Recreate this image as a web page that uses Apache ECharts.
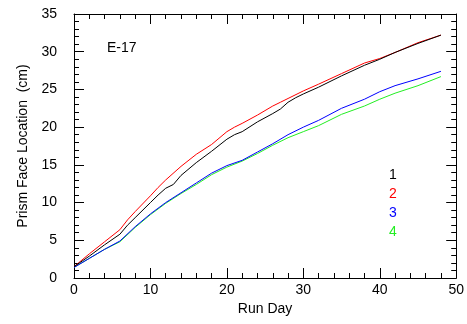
<!DOCTYPE html>
<html>
<head>
<meta charset="utf-8">
<script src="https://cdn.jsdelivr.net/npm/echarts@6/dist/echarts.min.js"></script>
<style>
html,body{margin:0;padding:0;background:#fff;}
#c{width:467px;height:324px;}
</style>
</head>
<body>
<div id="c"></div>
<script>
const seriesNames = ['1', '2', '3', '4'];
const seriesColors = ['#000000', '#ff0000', '#0000ff', '#22ee22'];

const days1 = [0,2,4,6,7,8,10,11,12,13,14,16,18,20,21,22,24,26,27,28,29,30,32,35,38,40,42,45,48];
const vals1 = [1.5,2.9,4.4,5.8,7.0,8.0,10.0,11.0,11.9,12.4,13.6,15.3,16.8,18.4,19.0,19.4,20.7,21.8,22.4,23.3,23.9,24.4,25.3,26.8,28.2,29.0,29.9,31.1,32.2];

const days2 = [0,2,4,6,7,8,10,11,12,14,16,18,20,21,22,24,26,27,28,30,32,35,38,40,42,45,48];
const vals2 = [1.5,3.2,4.8,6.4,7.7,8.8,10.9,12.0,13.0,14.8,16.4,17.7,19.4,20.0,20.5,21.6,22.8,23.3,23.8,24.8,25.7,27.1,28.5,29.1,29.9,31.2,32.2];

const days3 = [0,2,4,6,8,10,12,14,16,18,20,22,24,26,28,30,32,35,38,40,42,45,48];
const vals3 = [1.4,2.6,3.8,4.9,6.8,8.5,10.0,11.3,12.6,13.9,14.9,15.6,16.7,17.8,19.0,20.0,20.9,22.5,23.7,24.7,25.5,26.4,27.4];

const days4 = [0,2,4,6,8,10,12,14,16,18,20,22,24,26,28,30,32,35,38,40,42,45,48];
const vals4 = [1.4,2.6,3.8,4.8,6.7,8.4,9.9,11.2,12.4,13.7,14.7,15.5,16.5,17.6,18.6,19.4,20.2,21.7,22.8,23.7,24.5,25.5,26.7];

const xTitle = 'Run Day';
const yTitle = 'Prism Face Location  (cm)';
const panelLabel = 'E-17';

const allDays = [days1, days2, days3, days4];
const allVals = [vals1, vals2, vals3, vals4];

const FONT = 'Liberation Sans, Arial, sans-serif';

const chart = echarts.init(document.getElementById('c'), null, {renderer: 'canvas'});

function axisCommon(showLabels) {
  return {
    axisLine: {show: true, onZero: false, lineStyle: {color: '#000', width: 1}},
    axisTick: {show: true, inside: true, length: 10, lineStyle: {color: '#000'}},
    minorTick: {show: true, splitNumber: 5, length: 5, lineStyle: {color: '#000'}},
    splitLine: {show: false},
    minorSplitLine: {show: false},
    axisLabel: {show: showLabels, color: '#000', fontSize: 14, fontFamily: FONT}
  };
}

const series = seriesNames.map((n, i) => ({
  name: n,
  type: 'line',
  xAxisIndex: 0,
  yAxisIndex: 0,
  showSymbol: false,
  symbol: 'none',
  lineStyle: {color: seriesColors[i], width: 1},
  data: allDays[i].map((d, j) => [d, allVals[i][j]]),
  z: 10 - i
}));

const option = {
  backgroundColor: '#fff',
  animation: false,
  grid: {left: 74, right: 9, top: 14, bottom: 46, containLabel: false},
  xAxis: [
    Object.assign({type: 'value', position: 'bottom', min: 0, max: 50, interval: 10,
      name: xTitle, nameLocation: 'middle', nameGap: 24,
      nameTextStyle: {color: '#000', fontSize: 14, fontFamily: FONT}}, axisCommon(true),
      {axisLabel: {show: true, color: '#000', fontSize: 14, fontFamily: FONT, margin: 5}}),
    Object.assign({type: 'value', position: 'top', min: 0, max: 50, interval: 10}, axisCommon(false))
  ],
  yAxis: [
    Object.assign({type: 'value', position: 'left', min: 0, max: 35, interval: 5,
      name: yTitle, nameLocation: 'middle', nameGap: 40,
      nameTextStyle: {color: '#000', fontSize: 14, fontFamily: FONT}}, axisCommon(true),
      {axisLabel: {show: true, color: '#000', fontSize: 14, fontFamily: FONT, margin: 17}}),
    Object.assign({type: 'value', position: 'right', min: 0, max: 35, interval: 5}, axisCommon(false))
  ],
  series: series,
  graphic: [
    {type: 'text', left: 107, top: 41, style: {text: panelLabel, fill: '#000', font: '14px ' + FONT}}
  ].concat(seriesNames.map((n, i) => ({
    type: 'text', left: 389, top: 168 + i * 19,
    style: {text: n, fill: seriesColors[i], font: '14px ' + FONT}
  })))
};

chart.setOption(option);
</script>
</body>
</html>
